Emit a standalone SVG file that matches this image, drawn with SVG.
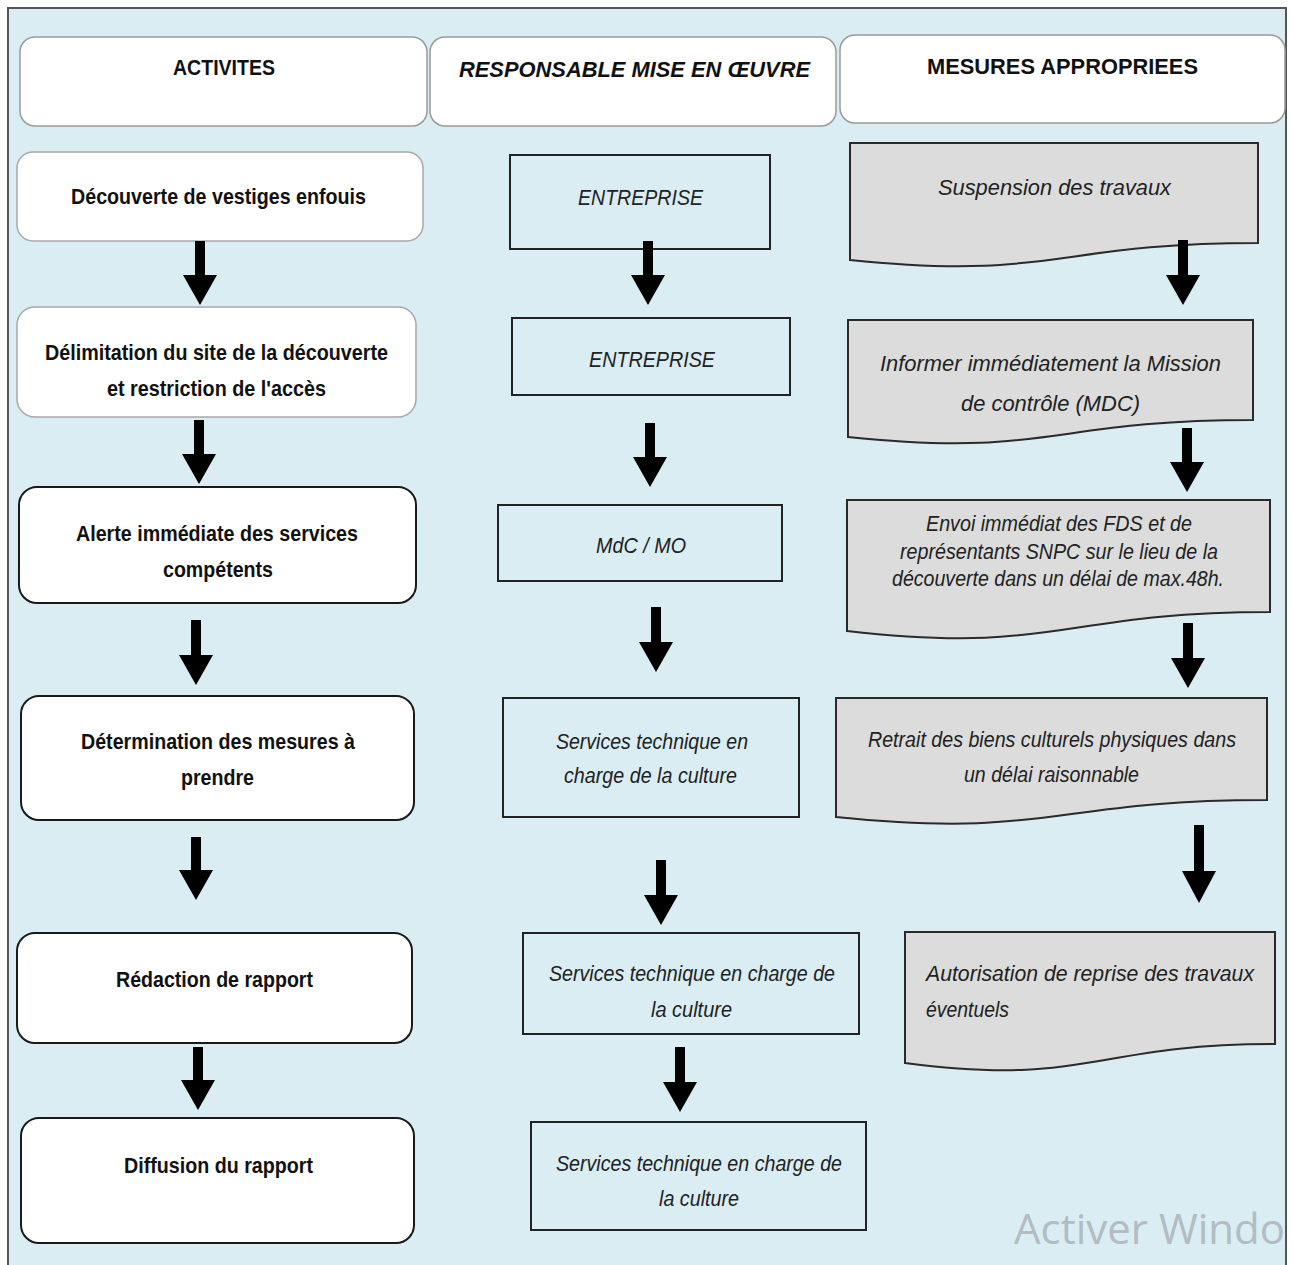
<svg xmlns="http://www.w3.org/2000/svg" width="1293" height="1265" viewBox="0 0 1293 1265">
<style>
.b{font-family:"Liberation Sans",Arial,sans-serif;font-weight:bold;font-size:22px;fill:#111}
.i{font-family:"Liberation Sans",Arial,sans-serif;font-style:italic;font-size:22px;fill:#222}
.hd{fill:#fff;stroke:#9a9a9a;stroke-width:1.5}
.soft{fill:#fff;stroke:#a8a8a8;stroke-width:1.5}
.hard{fill:#fff;stroke:#1a1a1a;stroke-width:2}
.rb{fill:none;stroke:#222;stroke-width:2}
.doc{fill:#dcdcdc;stroke:#2a2a2a;stroke-width:2}
.arr{fill:#000}
</style>
<defs>
<clipPath id="panelclip"><rect x="8" y="8" width="1277" height="1265"/></clipPath>
</defs>
<rect x="0" y="0" width="1293" height="1265" fill="#fff"/>
<rect id="panel" x="8" y="8" width="1278" height="1270" fill="#daedf3" stroke="#555" stroke-width="2"/>

<g id="h1"><rect class="hd" x="20" y="37" width="407" height="89" rx="15"/><text class="b" x="173" y="75" textLength="102" lengthAdjust="spacingAndGlyphs">ACTIVITES</text></g>
<g id="h2"><rect class="hd" x="430" y="37" width="406" height="89" rx="15"/><text class="b" font-style="italic" x="459" y="77" textLength="351" lengthAdjust="spacingAndGlyphs">RESPONSABLE MISE EN ŒUVRE</text></g>
<g id="h3"><rect class="hd" x="840" y="35" width="445" height="88" rx="15"/><text class="b" x="927" y="74" textLength="271" lengthAdjust="spacingAndGlyphs">MESURES APPROPRIEES</text></g>

<g id="a1"><rect class="soft" x="17" y="152" width="406" height="89" rx="16"/><text class="b" x="71" y="204" textLength="295" lengthAdjust="spacingAndGlyphs">Découverte de vestiges enfouis</text></g>
<g id="a2"><rect class="soft" x="17" y="307" width="399" height="110" rx="18"/><text class="b" x="45" y="360" textLength="343" lengthAdjust="spacingAndGlyphs">Délimitation du site de la découverte</text><text class="b" x="107" y="396" textLength="219" lengthAdjust="spacingAndGlyphs">et restriction de l'accès</text></g>
<g id="a3"><rect class="hard" x="19" y="487" width="397" height="116" rx="18"/><text class="b" x="76" y="541" textLength="282" lengthAdjust="spacingAndGlyphs">Alerte immédiate des services</text><text class="b" x="163" y="577" textLength="110" lengthAdjust="spacingAndGlyphs">compétents</text></g>
<g id="a4"><rect class="hard" x="21" y="696" width="393" height="124" rx="18"/><text class="b" x="81" y="749" textLength="274" lengthAdjust="spacingAndGlyphs">Détermination des mesures à</text><text class="b" x="181" y="785" textLength="73" lengthAdjust="spacingAndGlyphs">prendre</text></g>
<g id="a5"><rect class="hard" x="17" y="933" width="395" height="110" rx="18"/><text class="b" x="116" y="987" textLength="197" lengthAdjust="spacingAndGlyphs">Rédaction de rapport</text></g>
<g id="a6"><rect class="hard" x="21" y="1118" width="393" height="125" rx="18"/><text class="b" x="124" y="1173" textLength="189" lengthAdjust="spacingAndGlyphs">Diffusion du rapport</text></g>

<g id="r1"><rect class="rb" x="510" y="155" width="260" height="94"/><text class="i" x="578" y="205" textLength="125" lengthAdjust="spacingAndGlyphs">ENTREPRISE</text></g>
<g id="r2"><rect class="rb" x="512" y="318" width="278" height="77"/><text class="i" x="589" y="367" textLength="126" lengthAdjust="spacingAndGlyphs">ENTREPRISE</text></g>
<g id="r3"><rect class="rb" x="498" y="505" width="284" height="76"/><text class="i" x="596" y="553" textLength="90" lengthAdjust="spacingAndGlyphs">MdC / MO</text></g>
<g id="r4"><rect class="rb" x="503" y="698" width="296" height="119"/><text class="i" x="556" y="749" textLength="192" lengthAdjust="spacingAndGlyphs">Services technique en</text><text class="i" x="564" y="783" textLength="173" lengthAdjust="spacingAndGlyphs">charge de la culture</text></g>
<g id="r5"><rect class="rb" x="523" y="933" width="336" height="101"/><text class="i" x="549" y="981" textLength="286" lengthAdjust="spacingAndGlyphs">Services technique en charge de</text><text class="i" x="651" y="1017" textLength="81" lengthAdjust="spacingAndGlyphs">la culture</text></g>
<g id="r6"><rect class="rb" x="531" y="1122" width="335" height="108"/><text class="i" x="556" y="1171" textLength="286" lengthAdjust="spacingAndGlyphs">Services technique en charge de</text><text class="i" x="659" y="1206" textLength="80" lengthAdjust="spacingAndGlyphs">la culture</text></g>

<g id="m1"><path class="doc" d="M850,143 H1258 V243 C1054,243 1054,281 850,260 Z"/><text class="i" x="938" y="195" textLength="233" lengthAdjust="spacingAndGlyphs">Suspension des travaux</text></g>
<g id="m2"><path class="doc" d="M848,320 H1253 V420 C1050,420 1050,458 848,437 Z"/><text class="i" x="880" y="371" textLength="341" lengthAdjust="spacingAndGlyphs">Informer immédiatement la Mission</text><text class="i" x="961" y="411" textLength="179" lengthAdjust="spacingAndGlyphs">de contrôle (MDC)</text></g>
<g id="m3"><path class="doc" d="M847,500 H1270 V612 C1058,612 1058,655 847,631 Z"/><text class="i" x="926" y="531" textLength="266" lengthAdjust="spacingAndGlyphs">Envoi immédiat des FDS et de</text><text class="i" x="900" y="559" textLength="318" lengthAdjust="spacingAndGlyphs">représentants SNPC sur le lieu de la</text><text class="i" x="892" y="586" textLength="332" lengthAdjust="spacingAndGlyphs">découverte dans un délai de max.48h.</text></g>
<g id="m4"><path class="doc" d="M836,698 H1267 V800 C1051,800 1051,839 836,817 Z"/><text class="i" x="868" y="747" textLength="368" lengthAdjust="spacingAndGlyphs">Retrait des biens culturels physiques dans</text><text class="i" x="964" y="782" textLength="175" lengthAdjust="spacingAndGlyphs">un délai raisonnable</text></g>
<g id="m5"><path class="doc" d="M905,932 H1275 V1044 C1090,1044 1090,1087 905,1063 Z"/><text class="i" x="926" y="981" textLength="328" lengthAdjust="spacingAndGlyphs">Autorisation de reprise des travaux</text><text class="i" x="926" y="1017" textLength="83" lengthAdjust="spacingAndGlyphs">éventuels</text></g>

<g id="connectors">
<path class="arr" d="M195,241 H205 V275 H217 L200,305 L183,275 H195 Z"/>
<path class="arr" d="M194,420 H204 V454 H216 L199,484 L182,454 H194 Z"/>
<path class="arr" d="M191,620 H201 V655 H213 L196,685 L179,655 H191 Z"/>
<path class="arr" d="M191,837 H201 V870 H213 L196,900 L179,870 H191 Z"/>
<path class="arr" d="M193,1047 H203 V1080 H215 L198,1110 L181,1080 H193 Z"/>

<path class="arr" d="M643,241 H653 V275 H665 L648,305 L631,275 H643 Z"/>
<path class="arr" d="M645,423 H655 V457 H667 L650,487 L633,457 H645 Z"/>
<path class="arr" d="M651,607 H661 V642 H673 L656,672 L639,642 H651 Z"/>
<path class="arr" d="M656,860 H666 V895 H678 L661,925 L644,895 H656 Z"/>
<path class="arr" d="M675,1047 H685 V1082 H697 L680,1112 L663,1082 H675 Z"/>

<path class="arr" d="M1178,240 H1188 V275 H1200 L1183,305 L1166,275 H1178 Z"/>
<path class="arr" d="M1182,428 H1192 V462 H1204 L1187,492 L1170,462 H1182 Z"/>
<path class="arr" d="M1183,623 H1193 V658 H1205 L1188,688 L1171,658 H1183 Z"/>
<path class="arr" d="M1194,825 H1204 V871 H1216 L1199,903 L1182,871 H1194 Z"/>
</g>

<g clip-path="url(#panelclip)"><text x="1014" y="1244" font-family="'Open Sans','Noto Sans',sans-serif" font-size="42" fill="#b2bcc1">Activer Windows</text></g>
</svg>
